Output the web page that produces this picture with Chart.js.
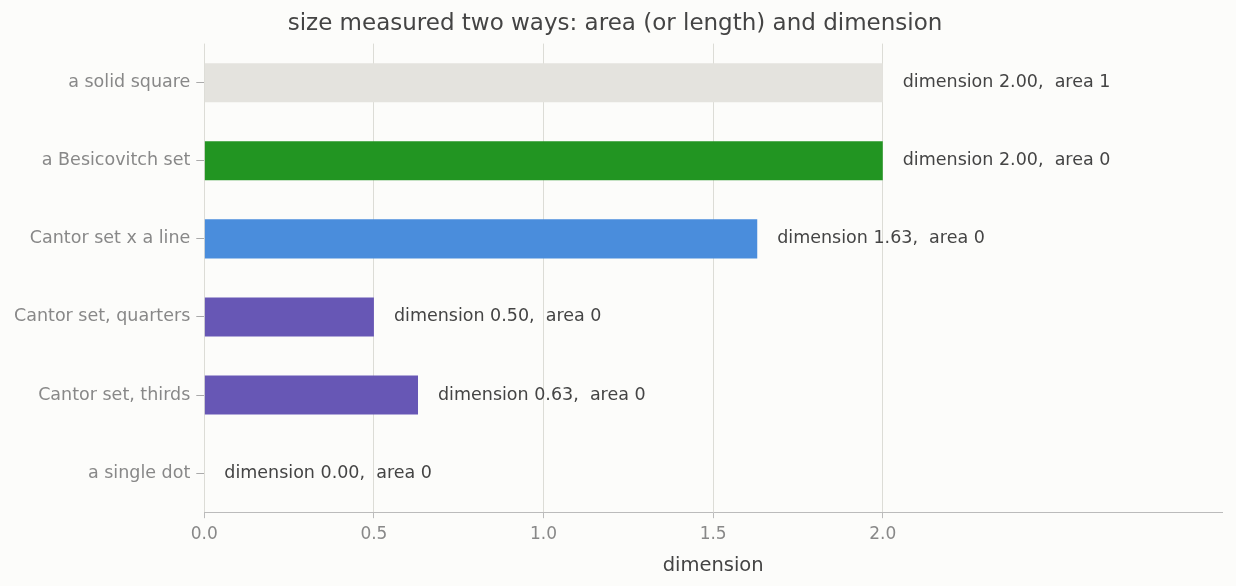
<!DOCTYPE html>
<html><head><meta charset="utf-8">
<script src="https://cdn.jsdelivr.net/npm/chart.js@4"></script>
<style>html,body{margin:0;background:#fcfcfa;}#w{width:1236px;height:586px;}</style>
</head><body><div id="w"><canvas id="c"></canvas></div>
<script>
const categories = ["a solid square","a Besicovitch set","Cantor set x a line","Cantor set, quarters","Cantor set, thirds","a single dot"];
const dimensions = [2.00, 2.00, 1.63, 0.50, 0.63, 0.00];
const areas = [1, 0, 0, 0, 0, 0];
const colors = ["#e4e3de","#229522","#4a8ddc","#6757b5","#6757b5","#6757b5"];
const xTicks = [0, 0.5, 1.0, 1.5, 2.0];

const labelPlugin = {
  id: 'lbl',
  afterDatasetsDraw(chart) {
    const ctx = chart.ctx, xs = chart.scales.x, ys = chart.scales.y;
    ctx.save();
    ctx.font = '17.5px "DejaVu Sans"';
    ctx.fillStyle = '#444';
    ctx.textBaseline = 'middle';
    dimensions.forEach((d, i) => {
      ctx.fillText('dimension ' + d.toFixed(2) + ',  area ' + areas[i], xs.getPixelForValue(d) + 20, ys.getPixelForValue(i));
    });
    ctx.restore();
  }
};
new Chart(document.getElementById('c'), {
  type: 'bar',
  data: { labels: categories, datasets: [{ data: dimensions, backgroundColor: colors, barPercentage: 0.5, categoryPercentage: 1 }] },
  options: {
    indexAxis: 'y', responsive: true, maintainAspectRatio: false, animation: false,
    layout: { padding: { left: 8, right: 14, top: 4, bottom: 8 } },
    plugins: {
      legend: { display: false }, tooltip: { enabled: false },
      title: { display: true, text: 'size measured two ways: area (or length) and dimension', color: '#444', font: { family: 'DejaVu Sans', size: 23 , weight: 'normal' }, padding: { top: 6, bottom: 6 } }
    },
    scales: {
      x: { min: 0, max: 3,
        afterBuildTicks: s => { s.ticks = xTicks.map(v => ({ value: v })); },
        ticks: { color: '#888', font: { family: 'DejaVu Sans', size: 17 }, callback: v => v.toFixed(1), padding: 6 },
        grid: { color: '#dcdcd6', tickLength: 6, tickColor: '#bbb' },
        border: { color: '#bbb' },
        title: { display: true, text: 'dimension', color: '#444', font: { family: 'DejaVu Sans', size: 19.5 }, padding: { top: 4, bottom: 0 } } },
      y: { ticks: { color: '#888', font: { family: 'DejaVu Sans', size: 17.5 }, padding: 6 },
        grid: { display: true, offset: false, drawOnChartArea: false, tickLength: 8, tickColor: '#aaa' },
        border: { display: false } }
    }
  },
  plugins: [labelPlugin]
});
</script></body></html>
